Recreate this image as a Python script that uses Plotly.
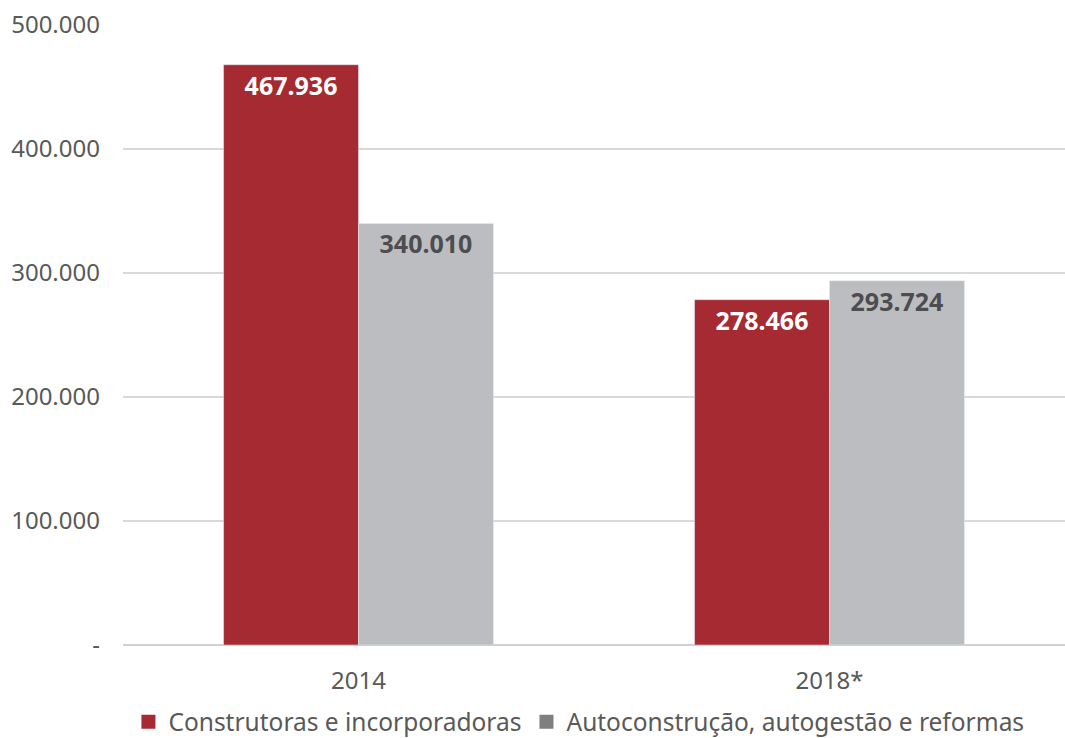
import plotly.graph_objects as go

categories = ["2014", "2018*"]
construtoras = [467936, 278466]
autoconstrucao = [340010, 293724]
series_names = ["Construtoras e incorporadoras", "Autoconstrução, autogestão e reformas"]
tick_vals = [0, 100000, 200000, 300000, 400000, 500000]
tick_text = ["-", "100.000", "200.000", "300.000", "400.000", "500.000"]

RED = "#a62a31"
GRAY = "#bcbdc1"
LEG_GRAY = "#7f7f80"
FONT = "Noto Sans"

fig = go.Figure()
fig.add_trace(go.Bar(
    x=categories, y=construtoras, name=series_names[0], marker_color=RED,
    texttemplate="%{y:,.0f}", textposition="inside", insidetextanchor="end", textangle=0,
    textfont=dict(family=FONT, size=25, color="white", weight="bold"),
    showlegend=False, offsetgroup="a",
))
fig.add_trace(go.Bar(
    x=categories, y=autoconstrucao, name=series_names[1], marker_color=GRAY,
    texttemplate="%{y:,.0f}", textposition="inside", insidetextanchor="end", textangle=0,
    textfont=dict(family=FONT, size=25, color="#4d4d4f", weight="bold"),
    showlegend=False, offsetgroup="b",
))
# legend entries
fig.add_trace(go.Scatter(x=[None], y=[None], mode="markers", name=series_names[0],
                         marker=dict(color=RED, symbol="square", size=14)))
fig.add_trace(go.Scatter(x=[None], y=[None], mode="markers", name=series_names[1],
                         marker=dict(color=LEG_GRAY, symbol="square", size=14)))

fig.update_layout(
    width=1065, height=738,
    margin=dict(l=123, r=0, t=25, b=93, autoexpand=False),
    paper_bgcolor="white", plot_bgcolor="white",
    barmode="group", bargap=0.427, bargroupgap=0,
    separators=",.",
    font=dict(family=FONT, size=24, color="#595959"),
    legend=dict(orientation="h", x=0.484, xanchor="center", y=-0.124, yanchor="middle",
                font=dict(family=FONT, size=24.5, color="#595959"),
                traceorder="normal"),
    xaxis=dict(showgrid=False, showline=False, ticks="", ticklabelstandoff=19,
               automargin=False, tickfont=dict(size=24, color="#595959")),
    yaxis=dict(range=[0, 500000], tickvals=tick_vals, ticktext=tick_text,
               showgrid=True, gridcolor="#d9d9d9", gridwidth=1.5,
               zeroline=True, zerolinecolor="#d0d0d0", zerolinewidth=1.5,
               ticks="", ticklabelstandoff=22, automargin=False,
               tickfont=dict(size=24, color="#595959")),
)

fig.write_html(
    "out.html",
    config={"displayModeBar": False},
    post_script="document.body.style.margin='0';document.documentElement.style.overflow='hidden';document.body.style.overflow='hidden';",
)
